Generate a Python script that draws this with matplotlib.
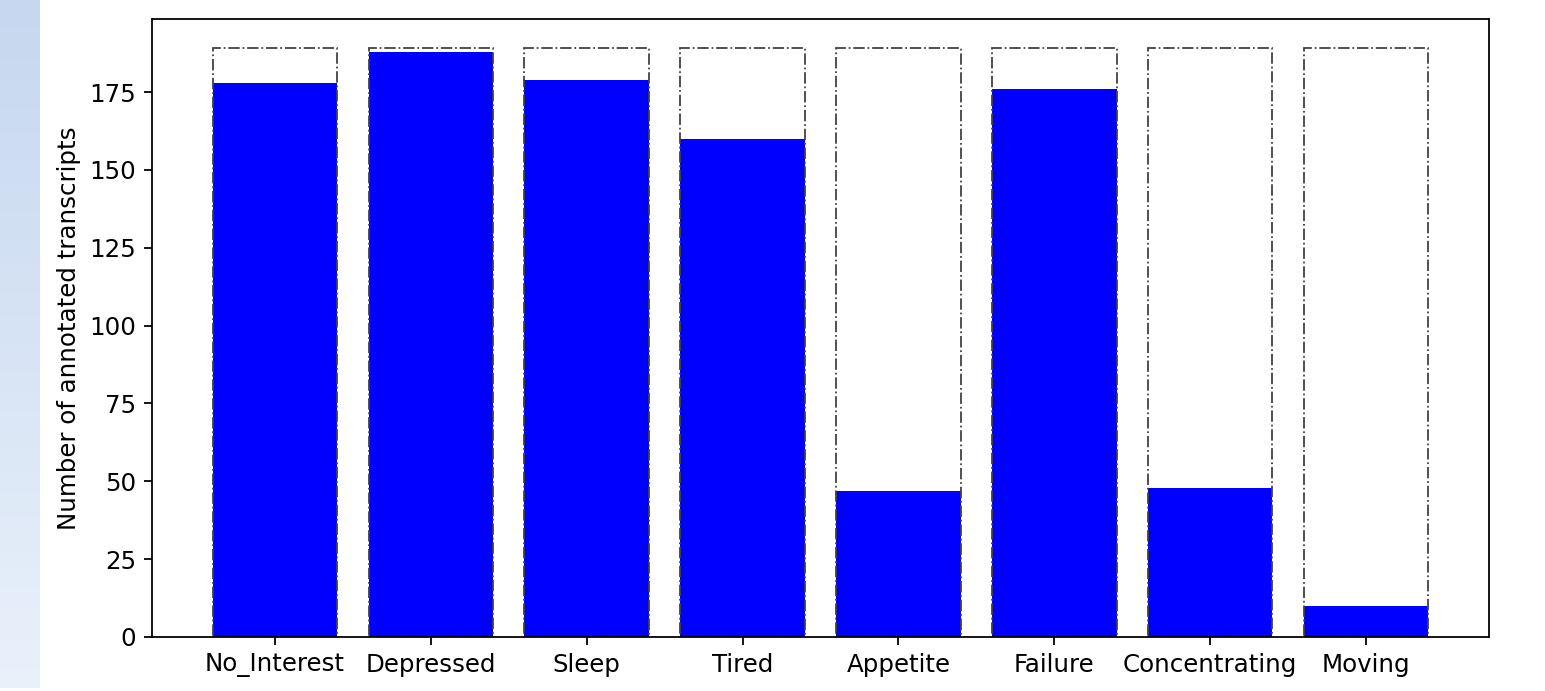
import numpy as np
import matplotlib
matplotlib.use("Agg")
import matplotlib.pyplot as plt

categories = ["No_Interest", "Depressed", "Sleep", "Tired", "Appetite",
              "Failure", "Concentrating", "Moving"]
annotated = [178, 188, 179, 160, 47, 176, 48, 10]
total_transcripts = [189] * len(categories)

W, H, DPI = 1545, 691, 160
plt.rcParams["font.size"] = 11
fig = plt.figure(figsize=(W / DPI, H / DPI), dpi=DPI)

# decorative light-blue gradient strip along the left edge
strip = fig.add_axes([0, 3 / H, 40 / W, 1 - 3 / H])
top = np.array([198, 215, 239]) / 255
bot = np.array([233, 241, 251]) / 255
t = np.linspace(0, 1, 256)[:, None]
grad = top * (1 - t) + bot * t
strip.imshow(grad[:, None, :], aspect="auto", extent=[0, 1, 0, 1])
strip.set_axis_off()

ax = fig.add_axes([152 / W, 54 / H, (1489 - 152) / W, (637 - 19) / H])

x = np.arange(len(categories))
ax.bar(x, annotated, width=0.8, color="blue")
ax.bar(x, total_transcripts, width=0.8, fill=False, edgecolor="#404040",
       linestyle="-.", linewidth=0.8)

ax.set_xticks(x)
ax.set_xticklabels(categories)
ax.set_ylabel("Number of annotated transcripts")

fig.savefig("out.png", dpi=DPI)
